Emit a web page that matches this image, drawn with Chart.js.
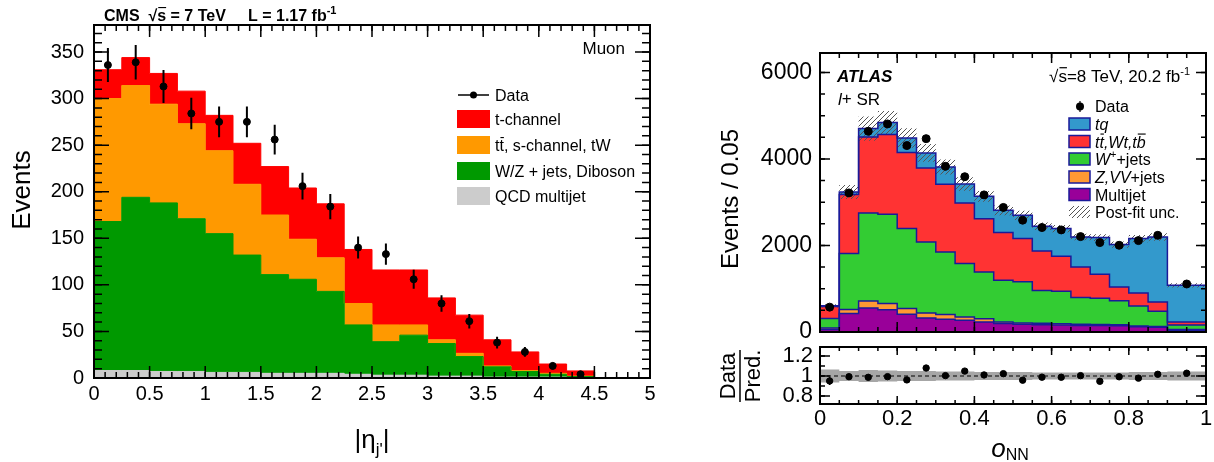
<!DOCTYPE html>
<html>
<head>
<meta charset="utf-8">
<title>Single top: |eta_j'| and o_NN</title>
<script src="https://cdn.jsdelivr.net/npm/chart.js@4.4.1/dist/chart.umd.min.js"></script>
<style>
  html, body { margin: 0; padding: 0; background: #fff; }
  #page { position: relative; width: 1214px; height: 462px; overflow: hidden; }
  canvas { position: absolute; }
</style>
</head>
<body>
<div id="page">
  <canvas id="cms" width="680" height="462" style="left:0;top:0"></canvas>
  <canvas id="atlas" width="514" height="345" style="left:700px;top:0"></canvas>
  <canvas id="ratio" width="514" height="122" style="left:700px;top:340px"></canvas>
</div>
<script>
const FONT = '"Liberation Sans", Arial, Helvetica, sans-serif';
Chart.defaults.font.family = FONT;
Chart.defaults.color = '#000';

// ---- CMS: |eta| of the light-quark jet, muon channel (bins of 0.25) ----
const etaEdges = [0, 0.25, 0.5, 0.75, 1, 1.25, 1.5, 1.75, 2, 2.25, 2.5, 2.75, 3, 3.25, 3.5, 3.75, 4, 4.25, 4.5];
const cmsQCD   = [8, 8, 7, 7, 6, 6, 5, 5, 5, 4, 3, 3, 2, 2, 1, 1, 1, 0.5];
const cmsWZ    = [160, 186, 181, 164, 149, 126, 106, 101, 88, 53, 36, 43, 35, 21, 11, 6, 3, 1];
const cmsTTbar = [132, 120, 106, 102, 89, 76, 64, 43, 36, 23, 18, 11, 4, 3.5, 1, 1, 1, 0.5];
const cmsTch   = [31, 30, 33, 35, 38, 44, 52, 55, 58, 58, 59, 59, 45, 41, 28, 20, 10, 5.6];
const cmsData  = [336, 339, 313, 284, 275, 275, 256, 206, 184, 140, 133, 106, 80, 61, 38, 28, 13, 4];
const cmsErr   = [18.3, 18.4, 17.7, 16.9, 16.6, 16.6, 16, 14.4, 13.6, 11.8, 11.5, 10.3, 8.9, 7.8, 6.2, 5.3, 3.6, 2];
const cmsXTicks = [0, 0.5, 1, 1.5, 2, 2.5, 3, 3.5, 4, 4.5, 5];
const cmsYTicks = [0, 50, 100, 150, 200, 250, 300, 350];

// ---- ATLAS: neural-network output o_NN, l+ signal region ----
const onnEdges = [0, 0.05, 0.1, 0.15, 0.2, 0.25, 0.3, 0.35, 0.4, 0.45, 0.5, 0.55, 0.6, 0.65, 0.7, 0.75, 0.8, 0.85, 0.9, 1];
const atlasMultijet = [60, 425, 555, 517, 409, 324, 294, 270, 231, 194, 178, 170, 160, 150, 150, 145, 120, 110, 40];
const atlasZVV      = [35, 93, 162, 139, 132, 116, 108, 77, 78, 37, 32, 30, 30, 30, 25, 20, 20, 15, 20];
const atlasWjets    = [215, 1294, 2035, 2065, 1849, 1641, 1448, 1234, 1078, 964, 950, 760, 750, 620, 605, 555, 460, 355, 100];
const atlasTop      = [280, 1364, 1757, 1842, 1758, 1711, 1565, 1402, 1234, 1103, 999, 913, 810, 703, 554, 321, 300, 214, 70];
const atlasTq       = [15, 61, 193, 278, 338, 348, 400, 439, 516, 516, 539, 571, 640, 694, 849, 980, 1259, 1503, 850];
const atlasData     = [575, 3215, 4640, 4810, 4310, 4470, 3830, 3590, 3170, 2880, 2585, 2415, 2360, 2205, 2067, 2005, 2113, 2235, 1110];
const atlasErr      = [24, 57, 68, 69, 66, 67, 62, 60, 56, 54, 51, 49, 49, 47, 45, 45, 46, 47, 24];
// relative post-fit uncertainty per bin
const atlasUnc      = [0.065, 0.05, 0.06, 0.055, 0.05, 0.05, 0.045, 0.045, 0.04, 0.04, 0.04, 0.035, 0.035, 0.035, 0.035, 0.035, 0.04, 0.04, 0.045];
const onnXTicks   = [0, 0.2, 0.4, 0.6, 0.8, 1];
const atlasYTicks = [0, 2000, 4000, 6000];
const ratioYTicks = [0.8, 1, 1.2];

// ---------- helpers ----------
// histogram outline: one point per left bin edge plus the closing right edge
function steps(edges, vals) {
  const pts = vals.map((v, i) => ({ x: edges[i], y: v }));
  pts.push({ x: edges[edges.length - 1], y: vals[vals.length - 1] });
  return pts;
}
function mids(edges) {
  return edges.slice(0, -1).map((e, i) => (e + edges[i + 1]) / 2);
}
const fixY = w => s => { s.width = w; s.paddingTop = 0; s.paddingBottom = 0; };
const fixX = h => s => { s.height = h; s.paddingLeft = 0; s.paddingRight = 0; };
const setTicks = list => s => { s.ticks = list.map(v => ({ value: v })); };

// text made of pieces: [text, font, dy, overbar]
function rich(ctx, x, y, parts, align) {
  let w = 0;
  for (const p of parts) { ctx.font = p[1]; w += ctx.measureText(p[0]).width; }
  let cx = align === 'right' ? x - w : align === 'center' ? x - w / 2 : x;
  ctx.textAlign = 'left';
  ctx.textBaseline = 'alphabetic';
  for (const [t, f, dy = 0, bar] of parts) {
    ctx.font = f;
    ctx.fillText(t, cx, y + dy);
    const tw = ctx.measureText(t).width;
    if (bar) {
      const size = parseFloat(f.match(/([\d.]+)px/)[1]);
      ctx.save();
      ctx.lineWidth = Math.max(1, size / 14);
      ctx.beginPath();
      ctx.moveTo(cx + 1, y + dy - size * 0.84);
      ctx.lineTo(cx + tw, y + dy - size * 0.84);
      ctx.stroke();
      ctx.restore();
    }
    cx += tw;
  }
}
function dot(ctx, x, y, r) {
  ctx.beginPath(); ctx.arc(x, y, r, 0, Math.PI * 2); ctx.fill();
}

// frame with inward ticks on all four sides
function frame(spec) {
  return {
    id: 'frame',
    afterDatasetsDraw(chart) {
      const { ctx, chartArea: a } = chart;
      const sx = chart.scales.x, sy = chart.scales.y;
      ctx.save();
      ctx.strokeStyle = '#000';
      ctx.lineWidth = spec.tickWidth;
      const run = (scale, step, len, horiz) => {
        const k0 = Math.ceil(scale.min / step - 1e-9), k1 = Math.floor(scale.max / step + 1e-9);
        ctx.beginPath();
        for (let k = k0; k <= k1; k++) {
          const p = scale.getPixelForValue(k * step);
          if (horiz) {
            ctx.moveTo(p, a.bottom); ctx.lineTo(p, a.bottom - len);
            ctx.moveTo(p, a.top); ctx.lineTo(p, a.top + len);
          } else {
            ctx.moveTo(a.left, p); ctx.lineTo(a.left + len, p);
            ctx.moveTo(a.right, p); ctx.lineTo(a.right - len, p);
          }
        }
        ctx.stroke();
      };
      run(sx, spec.xMinor, spec.xLen[1], true);
      run(sx, spec.xMajor, spec.xLen[0], true);
      run(sy, spec.yMinor, spec.yLen[1], false);
      run(sy, spec.yMajor, spec.yLen[0], false);
      ctx.lineWidth = spec.frameWidth;
      ctx.strokeRect(a.left, a.top, a.right - a.left, a.bottom - a.top);
      ctx.restore();
    }
  };
}

// vertical error bars for any dataset carrying an "errors" array
const errorBars = {
  id: 'errorBars',
  afterDatasetsDraw(chart) {
    const { ctx } = chart, sy = chart.scales.y;
    chart.data.datasets.forEach((ds, i) => {
      if (!ds.errors) return;
      const meta = chart.getDatasetMeta(i);
      ctx.save();
      ctx.strokeStyle = '#000';
      ctx.lineWidth = ds.errWidth || 1.5;
      ctx.beginPath();
      meta.data.forEach((pt, k) => {
        const v = ds.data[k].y, e = ds.errors[k];
        ctx.moveTo(pt.x, sy.getPixelForValue(v - e));
        ctx.lineTo(pt.x, sy.getPixelForValue(v + e));
      });
      ctx.stroke();
      ctx.restore();
    });
  }
};

const baseOptions = () => ({
  responsive: false,
  animation: false,
  events: [],
  plugins: { legend: { display: false }, tooltip: { enabled: false }, filler: { drawTime: 'beforeDatasetsDraw' } }
});

// ================= CMS panel =================
const cmsLayers = [
  { vals: cmsQCD, color: '#cccccc' },
  { vals: cmsWZ, color: '#009900' },
  { vals: cmsTTbar, color: '#ff9900' },
  { vals: cmsTch, color: '#ff0000' }
];

const cmsText = {
  id: 'cmsText',
  afterDraw(chart) {
    const ctx = chart.ctx;
    ctx.save();
    ctx.fillStyle = '#000';
    ctx.strokeStyle = '#000';
    const b16 = `bold 16px ${FONT}`;
    rich(ctx, 104, 21, [['CMS  ', b16], ['\u221A', b16], ['s', b16, 0, true], [' = 7 TeV', b16]]);
    rich(ctx, 248, 21, [['L = 1.17 fb', b16], ['-1', `bold 11px ${FONT}`, -7]]);
    rich(ctx, 625, 54, [['Muon', `17px ${FONT}`]], 'right');

    // legend
    const f = `16px ${FONT}`;
    ctx.lineWidth = 1.5;
    ctx.beginPath(); ctx.moveTo(458, 95); ctx.lineTo(489, 95); ctx.stroke();
    dot(ctx, 473.5, 95, 3.5);
    rich(ctx, 495, 101, [['Data', f]]);
    const rows = [
      [cmsLayers[3].color, 119, [['t-channel', f]]],
      [cmsLayers[2].color, 145, [['t', f], ['t', f, 0, true], [', s-channel, tW', f]]],
      [cmsLayers[1].color, 171, [['W/Z + jets, Diboson', f]]],
      [cmsLayers[0].color, 196, [['QCD multijet', f]]]
    ];
    for (const [c, y, parts] of rows) {
      ctx.fillStyle = c;
      ctx.fillRect(457, y - 9, 33, 18);
      ctx.fillStyle = '#000';
      rich(ctx, 495, y + 6, parts);
    }

    // axis titles
    ctx.save();
    ctx.translate(30, 190);
    ctx.rotate(-Math.PI / 2);
    ctx.font = `26px ${FONT}`;
    ctx.textAlign = 'center';
    ctx.textBaseline = 'alphabetic';
    ctx.fillText('Events', 0, 0);
    ctx.restore();
    rich(ctx, 372, 448, [['|\u03B7', `26px ${FONT}`], ['j\'', `17px ${FONT}`, 7], ['|', `26px ${FONT}`]], 'center');
    ctx.restore();
  }
};

const cmsOpts = baseOptions();
cmsOpts.layout = { padding: { left: 0, top: 25, right: 30, bottom: 0 } };
cmsOpts.scales = {
  x: {
    type: 'linear', min: 0, max: 5,
    grid: { display: false, drawTicks: false }, border: { display: false },
    ticks: { font: { size: 20 }, padding: 4, maxRotation: 0, autoSkip: false, callback: v => String(v) },
    afterBuildTicks: setTicks(cmsXTicks), afterFit: fixX(84)
  },
  y: {
    stacked: true, min: 0, max: 379,
    grid: { display: false, drawTicks: false }, border: { display: false },
    ticks: { font: { size: 20 }, padding: 10, autoSkip: false, callback: v => String(v) },
    afterBuildTicks: setTicks(cmsYTicks), afterFit: fixY(94)
  }
};

new Chart(document.getElementById('cms'), {
  type: 'line',
  data: {
    datasets: [
      {
        data: mids(etaEdges).map((x, i) => ({ x, y: cmsData[i] })),
        errors: cmsErr, errWidth: 2,
        showLine: false, pointRadius: 3.5, pointBackgroundColor: '#000', pointBorderColor: '#000',
        stack: 'data', fill: false
      },
      ...cmsLayers.map((l, i) => ({
        data: steps(etaEdges, l.vals), stepped: 'before',
        fill: i ? '-1' : 'origin', backgroundColor: l.color,
        borderColor: l.color, borderWidth: 1, pointRadius: 0, stack: 'mc'
      }))
    ]
  },
  options: cmsOpts,
  plugins: [frame({ xMajor: 0.5, xMinor: 0.1, yMajor: 50, yMinor: 10, xLen: [12, 6], yLen: [15, 8], tickWidth: 1.5, frameWidth: 2 }), errorBars, cmsText]
});

// ================= ATLAS panel =================
const atlasCanvas = document.getElementById('atlas');
const hatchTile = document.createElement('canvas');
hatchTile.width = hatchTile.height = 5;
{
  const g = hatchTile.getContext('2d');
  g.strokeStyle = '#555';
  g.lineWidth = 1;
  g.beginPath();
  g.moveTo(0, 5); g.lineTo(5, 0);
  g.moveTo(-1, 1); g.lineTo(1, -1);
  g.moveTo(4, 6); g.lineTo(6, 4);
  g.stroke();
}
const hatch = atlasCanvas.getContext('2d').createPattern(hatchTile, 'repeat');

const outline = '#1a1a99';
const atlasLayers = [
  { vals: atlasMultijet, color: '#990099' },
  { vals: atlasZVV, color: '#ff9933' },
  { vals: atlasWjets, color: '#33cc33' },
  { vals: atlasTop, color: '#ff3333' },
  { vals: atlasTq, color: '#3399cc' }
];
const atlasTotal = atlasData.map((_, i) => atlasLayers.reduce((s, l) => s + l.vals[i], 0));

const atlasText = {
  id: 'atlasText',
  afterDraw(chart) {
    const ctx = chart.ctx;
    ctx.save();
    ctx.fillStyle = '#000';
    ctx.strokeStyle = '#000';
    const f17 = `17px ${FONT}`;
    rich(ctx, 137, 82, [['ATLAS', `italic bold 17px ${FONT}`]]);
    rich(ctx, 490, 82, [['\u221A', f17], ['s', f17, 0, true], ['=8 TeV, 20.2 fb', f17], ['-1', `11px ${FONT}`, -7]], 'right');
    rich(ctx, 138, 105, [['l', `italic 17px ${FONT}`], ['+', f17, -1], [' SR', f17]]);

    // legend
    const f = `16px ${FONT}`, fi = `italic 16px ${FONT}`;
    ctx.lineWidth = 1.2;
    ctx.beginPath(); ctx.moveTo(380, 101); ctx.lineTo(380, 112); ctx.stroke();
    dot(ctx, 380, 106.5, 4);
    rich(ctx, 395, 112, [['Data', f]]);
    const rows = [
      [atlasLayers[4].color, 124, [['tq', fi]]],
      [atlasLayers[3].color, 141.5, [['t', fi], ['t', fi, 0, true], [',Wt,t', fi], ['b', fi, 0, true]]],
      [atlasLayers[2].color, 159, [['W', fi], ['+', `11px ${FONT}`, -7], ['+jets', f]]],
      [atlasLayers[1].color, 177, [['Z,VV', fi], ['+jets', f]]],
      [atlasLayers[0].color, 194.5, [['Multijet', f]]]
    ];
    for (const [c, y, parts] of rows) {
      ctx.fillStyle = c;
      ctx.fillRect(369, y - 6, 21, 12);
      ctx.strokeStyle = outline;
      ctx.lineWidth = 1.5;
      ctx.strokeRect(369, y - 6, 21, 12);
      ctx.fillStyle = '#000';
      ctx.strokeStyle = '#000';
      rich(ctx, 395, y + 6, parts);
    }
    ctx.fillStyle = hatch;
    ctx.fillRect(369, 206, 21, 12);
    ctx.fillStyle = '#000';
    rich(ctx, 395, 218, [['Post-fit unc.', f]]);

    ctx.save();
    ctx.translate(38, 199);
    ctx.rotate(-Math.PI / 2);
    ctx.font = `24px ${FONT}`;
    ctx.textAlign = 'center';
    ctx.textBaseline = 'alphabetic';
    ctx.fillText('Events / 0.05', 0, 0);
    ctx.restore();
    ctx.restore();
  }
};

const atlasOpts = baseOptions();
atlasOpts.layout = { padding: { left: 0, top: 53, right: 8, bottom: 13 } };
atlasOpts.scales = {
  x: { type: 'linear', min: 0, max: 1, display: false },
  y: {
    stacked: true, min: 0, max: 6450,
    grid: { display: false, drawTicks: false }, border: { display: false },
    ticks: { font: { size: 23 }, padding: 8, autoSkip: false, callback: v => String(v) },
    afterBuildTicks: setTicks(atlasYTicks), afterFit: fixY(120)
  }
};

new Chart(atlasCanvas, {
  type: 'line',
  data: {
    datasets: [
      {
        data: mids(onnEdges).map((x, i) => ({ x, y: atlasData[i] })),
        errors: atlasErr, errWidth: 1.5,
        showLine: false, pointRadius: 4, pointBackgroundColor: '#000', pointBorderColor: '#000',
        stack: 'data', fill: false
      },
      {
        data: steps(onnEdges, atlasTotal.map((t, i) => t * (1 - atlasUnc[i]))), stepped: 'before',
        borderWidth: 0, borderColor: 'transparent', pointRadius: 0, fill: false, stack: 'uncLo'
      },
      {
        data: steps(onnEdges, atlasTotal.map((t, i) => t * (1 + atlasUnc[i]))), stepped: 'before',
        borderWidth: 0, borderColor: 'transparent', pointRadius: 0, fill: '-1', backgroundColor: hatch, stack: 'uncHi'
      },
      ...atlasLayers.map((l, i) => ({
        data: steps(onnEdges, l.vals), stepped: 'before',
        fill: i ? '-1' : 'origin', backgroundColor: l.color,
        borderColor: outline, borderWidth: 1.5, pointRadius: 0, stack: 'mc'
      }))
    ]
  },
  options: atlasOpts,
  plugins: [frame({ xMajor: 0.2, xMinor: 0.05, yMajor: 2000, yMinor: 500, xLen: [10, 5], yLen: [10, 5], tickWidth: 1.5, frameWidth: 2 }), errorBars, atlasText]
});

// ================= ATLAS ratio panel =================
const ratioText = {
  id: 'ratioText',
  afterDraw(chart) {
    const ctx = chart.ctx;
    ctx.save();
    ctx.fillStyle = '#000';
    ctx.strokeStyle = '#000';
    ctx.font = `22px ${FONT}`;
    ctx.textAlign = 'center';
    ctx.textBaseline = 'alphabetic';
    ctx.save();
    ctx.translate(35, 36);
    ctx.rotate(-Math.PI / 2);
    ctx.fillText('Data', 0, 0);
    ctx.fillText('Pred.', 0, 25);
    ctx.restore();
    ctx.lineWidth = 1.5;
    ctx.beginPath(); ctx.moveTo(40, 10); ctx.lineTo(40, 62); ctx.stroke();
    rich(ctx, 310, 117, [['o', `italic 26px ${FONT}`], ['NN', `16px ${FONT}`, 3]], 'center');
    ctx.restore();
  }
};

const ratioOpts = baseOptions();
ratioOpts.layout = { padding: { left: 0, top: 7, right: 8, bottom: 0 } };
ratioOpts.scales = {
  x: {
    type: 'linear', min: 0, max: 1,
    grid: { display: false, drawTicks: false }, border: { display: false },
    ticks: { font: { size: 22 }, padding: 2, maxRotation: 0, autoSkip: false, callback: v => String(v) },
    afterBuildTicks: setTicks(onnXTicks), afterFit: fixX(58)
  },
  y: {
    min: 0.72, max: 1.29,
    grid: { display: false, drawTicks: false }, border: { display: false },
    ticks: { font: { size: 22 }, padding: 7, autoSkip: false, callback: v => String(v) },
    afterBuildTicks: setTicks(ratioYTicks), afterFit: fixY(120)
  }
};

new Chart(document.getElementById('ratio'), {
  type: 'line',
  data: {
    datasets: [
      {
        data: mids(onnEdges).map((x, i) => ({ x, y: atlasData[i] / atlasTotal[i] })),
        errors: atlasErr.map((e, i) => e / atlasTotal[i]), errWidth: 1.5,
        showLine: false, pointRadius: 3.2, pointBackgroundColor: '#000', pointBorderColor: '#000', fill: false
      },
      {
        data: [{ x: 0, y: 1 }, { x: 1, y: 1 }],
        borderColor: '#000', borderWidth: 1.2, borderDash: [4, 3], pointRadius: 0, fill: false
      },
      {
        data: steps(onnEdges, atlasUnc.map(u => 1 - u)), stepped: 'before',
        borderWidth: 0, borderColor: 'transparent', pointRadius: 0, fill: false
      },
      {
        data: steps(onnEdges, atlasUnc.map(u => 1 + u)), stepped: 'before',
        borderWidth: 0, borderColor: 'transparent', pointRadius: 0, fill: '-1', backgroundColor: '#a6a6a6'
      }
    ]
  },
  options: ratioOpts,
  plugins: [frame({ xMajor: 0.2, xMinor: 0.05, yMajor: 0.2, yMinor: 0.1, xLen: [8, 4], yLen: [10, 5], tickWidth: 1.5, frameWidth: 2 }), errorBars, ratioText]
});
</script>
</body>
</html>
